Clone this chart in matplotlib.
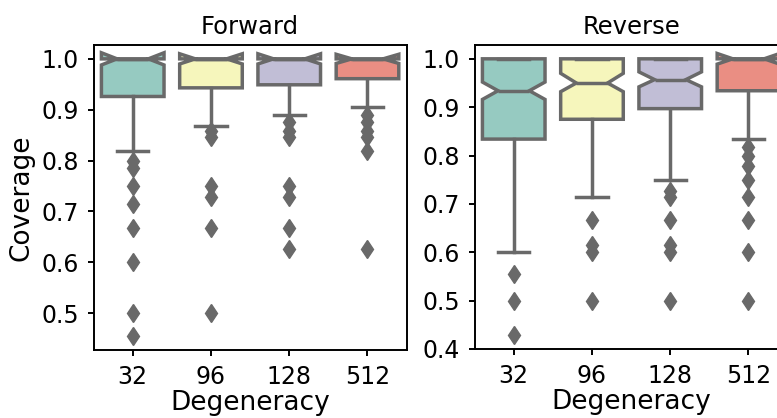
import colorsys

import numpy as np
import matplotlib
matplotlib.use("Agg")
import matplotlib.pyplot as plt
from matplotlib import colors as mcolors

# degeneracy levels on the x axis
categories = ["32", "96", "128", "512"]

# ---- Forward panel: box statistics
fwd_q1 = [0.926, 0.943, 0.949, 0.961]
fwd_med = [1.0, 1.0, 1.0, 1.0]
fwd_q3 = [1.0, 1.0, 1.0, 1.0]
fwd_ci = [0.012, 0.010, 0.010, 0.009]   # half width of the notch
fwd_whislo = [0.818, 0.867, 0.889, 0.905]
fwd_whishi = [1.0, 1.0, 1.0, 1.0]
fwd_fliers = [
    [0.8, 0.7857, 0.75, 0.7143, 0.6667, 0.6, 0.5, 0.4545],
    [0.8571, 0.8462, 0.75, 0.7273, 0.6667, 0.5],
    [0.875, 0.8571, 0.8462, 0.75, 0.7273, 0.6667, 0.625],
    [0.8889, 0.875, 0.8571, 0.8462, 0.8182, 0.625],
]

# ---- Reverse panel
rev_q1 = [0.834, 0.875, 0.897, 0.934]
rev_med = [0.934, 0.950, 0.957, 1.0]
rev_q3 = [1.0, 1.0, 1.0, 1.0]
rev_cilo = [0.916, 0.932, 0.942, 0.989]
rev_cihi = [0.952, 0.970, 0.973, 1.011]
rev_whislo = [0.60, 0.714, 0.75, 0.834]
rev_whishi = [1.0, 1.0, 1.0, 1.0]
rev_fliers = [
    [0.5556, 0.5, 0.4286],
    [0.6667, 0.6154, 0.6, 0.5],
    [0.7273, 0.7143, 0.6667, 0.6154, 0.6, 0.5],
    [0.8182, 0.8, 0.7778, 0.75, 0.7143, 0.6667, 0.6, 0.5],
]

# Set3 colours, desaturated like seaborn does (saturation=.75)
set3 = ["#8dd3c7", "#ffffb3", "#bebada", "#fb8072"]


def desat(c, prop=0.75):
    h, l, s = colorsys.rgb_to_hls(*mcolors.to_rgb(c))
    return colorsys.hls_to_rgb(h, l, s * prop)


box_colors = [desat(c) for c in set3]
gray = (0.41, 0.41, 0.41)
LW = 2.5

plt.rcParams["font.family"] = "DejaVu Sans"
plt.rcParams["axes.linewidth"] = 1.4


def make_stats(q1, med, q3, cilo, cihi, wlo, whi, fl):
    out = []
    for i in range(len(q1)):
        out.append(dict(q1=q1[i], med=med[i], q3=q3[i], cilo=cilo[i],
                        cihi=cihi[i], whislo=wlo[i], whishi=whi[i],
                        fliers=fl[i], label=categories[i]))
    return out


def draw(ax, stats, title, ylabel=None):
    pos = np.arange(len(stats))
    bp = ax.bxp(stats, positions=pos, widths=0.8, patch_artist=True,
                shownotches=True, manage_ticks=False,
                boxprops=dict(edgecolor=gray, linewidth=LW),
                medianprops=dict(color=gray, linewidth=LW),
                whiskerprops=dict(color=gray, linewidth=LW),
                capprops=dict(color=gray, linewidth=LW),
                flierprops=dict(marker="d", markerfacecolor=gray,
                                markeredgecolor=gray, markersize=9.5,
                                markeredgewidth=1))
    for patch, c in zip(bp["boxes"], box_colors):
        patch.set_facecolor(c)
    ax.set_xticks(pos)
    ax.set_xticklabels(categories)
    ax.set_xlim(-0.5, len(stats) - 0.5)
    lo = min(min(s["fliers"]) for s in stats)
    hi = max(s["q3"] for s in stats)
    pad = (hi - lo) * 0.05
    ax.set_ylim(lo - pad, hi + pad)
    ax.set_title(title, fontsize=17.5, pad=8)
    ax.set_xlabel("Degeneracy", fontsize=19, labelpad=1)
    if ylabel:
        ax.set_ylabel(ylabel, fontsize=19, labelpad=5)
    ax.tick_params(labelsize=17, length=4.5, width=1.4, pad=6)


fig = plt.figure(figsize=(7.77, 4.18), dpi=100)
W, H = 777.0, 418.0
ax1 = fig.add_axes([93.6 / W, 68 / H, 313 / W, 305 / H])
ax2 = fig.add_axes([474.6 / W, 69 / H, 313 / W, 304 / H])

draw(ax1, make_stats(fwd_q1, fwd_med, fwd_q3,
                     [m - c for m, c in zip(fwd_med, fwd_ci)],
                     [m + c for m, c in zip(fwd_med, fwd_ci)],
                     fwd_whislo, fwd_whishi, fwd_fliers),
     "Forward", "Coverage")
ax1.set_yticks([0.5, 0.6, 0.7, 0.8, 0.9, 1.0])

draw(ax2, make_stats(rev_q1, rev_med, rev_q3, rev_cilo, rev_cihi,
                     rev_whislo, rev_whishi, rev_fliers),
     "Reverse")
ax2.set_yticks([0.4, 0.5, 0.6, 0.7, 0.8, 0.9, 1.0])

fig.savefig("out.png", dpi=100)
